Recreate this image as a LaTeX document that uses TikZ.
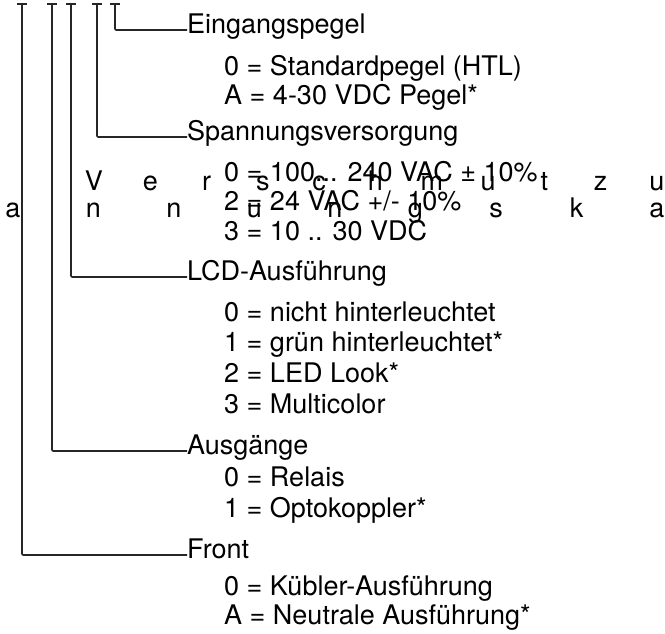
\documentclass[tikz,border=0pt]{standalone}
\usepackage{fontspec}
\setmainfont{TeX Gyre Heros}
\usetikzlibrary{positioning}
\tikzset{stem/.style={line width=1.7pt,black!85,rounded corners=1pt},
  hdr/.style={anchor=west,inner sep=0pt,text height=0.72em,text depth=0pt},
  opt/.style={anchor=base west,inner sep=0pt},
  ltr/.style={anchor=base,inner sep=0pt}}

\begin{document}
\begin{tikzpicture}[x=1pt,y=-1pt,line join=round,font=\fontsize{27}{31}\selectfont]
\useasboundingbox (0,0) rectangle (665,634);
% --- tee tops of the five code positions
\foreach \nm/\xx in {fr/22,au/52,lc/71,sp/97,ei/115}{
  \coordinate (\nm) at (\xx,4);
  \draw[stem] ([xshift=-5pt]\nm) -- ([xshift=5pt]\nm);
}
% --- Eingangspegel
\node[hdr] (eing) at (187,30) {Eingangspegel};
\node[opt] (eing0) at (224,76) {0 = Standardpegel (HTL)};
\node[opt] (eingA) at (224,105) {A = 4-30 VDC Pegel*};
\draw[stem] (ei) |- (eing.west);
% --- Spannungsversorgung
\node[hdr] (spann) at (187,137) {Spannungsversorgung};
\node[opt] (spann0) at (224,182) {0 = 100... 240 VAC ± 10\%};
\node[opt] (spann2) at (224,211) {2 = 24 VAC +/- 10\%};
\node[opt] (spann3) at (224,240) {3 = 10 .. 30 VDC};
\draw[stem] (sp) |- (spann.west);
% --- LCD
\node[hdr] (lcd) at (187,277) {LCD-Ausführung};
\node[opt] (lcd0) at (224,321) {0 = nicht hinterleuchtet};
\node[opt] (lcd1) at (224,351) {1 = grün hinterleuchtet*};
\node[opt] (lcd2) at (224,382) {2 = LED Look*};
\node[opt] (lcd3) at (224,413) {3 = Multicolor};
\draw[stem] (lc) |- (lcd.west);
% --- Ausgaenge
\node[hdr] (ausg) at (187,451) {Ausgänge};
\node[opt] (ausg0) at (224,486) {0 = Relais};
\node[opt] (ausg1) at (224,517) {1 = Optokoppler*};
\draw[stem] (au) |- (ausg.west);
% --- Front
\node[hdr] (front) at (187,555) {Front};
\node[opt] (front0) at (224,595) {0 = Kübler-Ausführung};
\node[opt] (frontA) at (224,624) {A = Neutrale Ausführung*};
\draw[stem] (fr) |- (front.west);
% --- spread letters across the middle
\foreach \ch [count=\i from 0] in {V,e,r,s,c,h,m,u,t,z,u}
  \node[ltr] (ra\i) at ({94+56.3*\i},190) {\ch};
\foreach \ch [count=\i from 0] in {a,n,n,u,n,g,s,k,a}
  \node[ltr] (rb\i) at ({13+80.5*\i},218) {\ch};
\end{tikzpicture}
\end{document}
